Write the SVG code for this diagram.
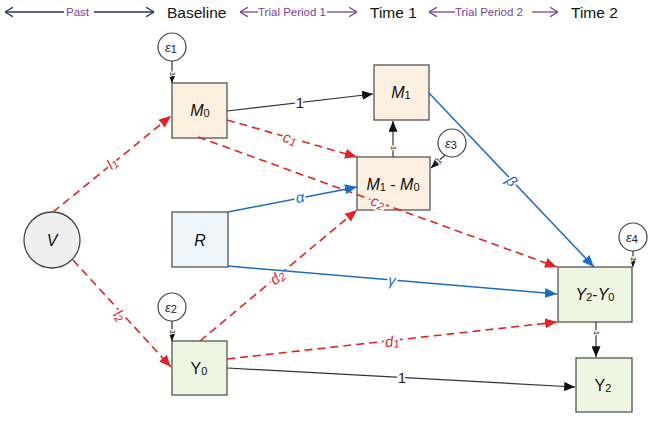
<svg xmlns="http://www.w3.org/2000/svg" width="651" height="421" viewBox="0 0 651 421">
<style>
text{font-family:"Liberation Sans",Arial,sans-serif}
.hd{font-size:15.5px;fill:#111}
.tp{font-size:11.5px;fill:#7a3fa0}
.box{stroke:#555;stroke-width:1.3}
.m{fill:#fdf0e0}.y{fill:#eef5e0}.r{fill:#eef6fc}
.circ{fill:#fff;stroke:#444;stroke-width:1.2}
.nl{font-size:16px;fill:#111;text-anchor:middle;dominant-baseline:central}
.it{font-style:italic}
.sub{font-size:11px}
.eps{font-size:13px;fill:#222;text-anchor:middle;dominant-baseline:central;font-style:italic}
.red{stroke:#e32322;stroke-width:1.6;stroke-dasharray:8 5;fill:none}
.blue{stroke:#1d6cc4;stroke-width:1.5;fill:none}
.blk{stroke:#333;stroke-width:1.2;fill:none}
.lbl{font-size:15px;text-anchor:middle;dominant-baseline:central;stroke:#fff;stroke-width:4;paint-order:stroke}
.lr{fill:#e32322;font-style:italic}
.lb{fill:#1d6cc4;font-style:italic}
.lk{fill:#222}
.tiny{font-size:8px;fill:#222;text-anchor:middle;dominant-baseline:central;stroke:#fff;stroke-width:2;paint-order:stroke}
</style>
<defs>
<marker id="ar" viewBox="0 0 12 10" refX="12" refY="5" markerWidth="12" markerHeight="10" markerUnits="userSpaceOnUse" orient="auto"><path d="M0,0 L12,5 L0,10 z" fill="#e32322"/></marker>
<marker id="ab" viewBox="0 0 12 10" refX="12" refY="5" markerWidth="12" markerHeight="10" markerUnits="userSpaceOnUse" orient="auto"><path d="M0,0 L12,5 L0,10 z" fill="#1d6cc4"/></marker>
<marker id="ak" viewBox="0 0 12 10" refX="12" refY="5" markerWidth="11" markerHeight="9" markerUnits="userSpaceOnUse" orient="auto"><path d="M0,0 L12,5 L0,10 z" fill="#111"/></marker>
<marker id="as" viewBox="0 0 12 10" refX="12" refY="5" markerWidth="7" markerHeight="6" markerUnits="userSpaceOnUse" orient="auto"><path d="M0,0 L12,5 L0,10 z" fill="#111"/></marker>
<marker id="hn" viewBox="0 0 10 12" refX="10" refY="6" markerWidth="8" markerHeight="10" markerUnits="userSpaceOnUse" orient="auto"><path d="M0,0 L10,6 L0,12" fill="none" stroke="#2a2f6e" stroke-width="1.5"/></marker>
<marker id="hp" viewBox="0 0 10 12" refX="10" refY="6" markerWidth="8" markerHeight="10" markerUnits="userSpaceOnUse" orient="auto"><path d="M0,0 L10,6 L0,12" fill="none" stroke="#7a3fa0" stroke-width="1.5"/></marker>
</defs>

<g id="header">
<line x1="64" y1="12" x2="5" y2="12" stroke="#2a2f6e" stroke-width="1.3" marker-end="url(#hn)"/>
<text class="tp" x="66" y="16">Past</text>
<line x1="94" y1="12" x2="154" y2="12" stroke="#2a2f6e" stroke-width="1.3" marker-end="url(#hn)"/>
<text class="hd" x="167" y="18">Baseline</text>
<line x1="258" y1="12" x2="240" y2="12" stroke="#7a3fa0" stroke-width="1.3" marker-end="url(#hp)"/>
<text class="tp" x="258" y="16">Trial Period 1</text>
<line x1="327" y1="12" x2="357" y2="12" stroke="#7a3fa0" stroke-width="1.3" marker-end="url(#hp)"/>
<text class="hd" x="370" y="18">Time 1</text>
<line x1="455" y1="12" x2="429" y2="12" stroke="#7a3fa0" stroke-width="1.3" marker-end="url(#hp)"/>
<text class="tp" x="455" y="16">Trial Period 2</text>
<line x1="532" y1="12" x2="558" y2="12" stroke="#7a3fa0" stroke-width="1.3" marker-end="url(#hp)"/>
<text class="hd" x="571" y="18">Time 2</text>
</g>

<g id="e1"><circle class="circ" cx="172" cy="47" r="14"/><text class="eps" x="171" y="47">ε<tspan class="sub" dy="2" font-style="normal">1</tspan></text></g>
<g id="e2"><circle class="circ" cx="172" cy="307" r="14"/><text class="eps" x="171" y="307">ε<tspan class="sub" dy="2" font-style="normal">2</tspan></text></g>
<g id="e3"><circle class="circ" cx="452" cy="143" r="14"/><text class="eps" x="451" y="143">ε<tspan class="sub" dy="2" font-style="normal">3</tspan></text></g>
<g id="e4"><circle class="circ" cx="633" cy="237" r="14"/><text class="eps" x="632" y="237">ε<tspan class="sub" dy="2" font-style="normal">4</tspan></text></g>

<g id="V"><circle cx="52" cy="240" r="28" fill="#efefef" stroke="#444" stroke-width="1.3"/><text class="nl it" x="52" y="240">V</text></g>
<g id="M0"><rect class="box m" x="172" y="83" width="55" height="55"/><text class="nl" x="200" y="110"><tspan class="it">M</tspan><tspan class="sub" dy="3">0</tspan></text></g>
<g id="M1"><rect class="box m" x="374" y="65" width="55" height="55"/><text class="nl" x="401" y="92"><tspan class="it">M</tspan><tspan class="sub" dy="3">1</tspan></text></g>
<g id="M1M0"><rect class="box m" x="357" y="157" width="73" height="53"/><text class="nl" x="393" y="184"><tspan class="it">M</tspan><tspan class="sub" dy="3">1</tspan><tspan dy="-3"> - </tspan><tspan class="it">M</tspan><tspan class="sub" dy="3">0</tspan></text></g>
<g id="R"><rect class="box r" x="172" y="212" width="56" height="55"/><text class="nl it" x="200" y="240">R</text></g>
<g id="Y0"><rect class="box y" x="172" y="341" width="55" height="54"/><text class="nl" x="199" y="368">Y<tspan class="sub" dy="3">0</tspan></text></g>
<g id="Y2Y0"><rect class="box y" x="558" y="267" width="74" height="55"/><text class="nl" x="595" y="294"><tspan class="it">Y</tspan><tspan class="sub" dy="3">2</tspan><tspan dy="-3">-</tspan><tspan class="it">Y</tspan><tspan class="sub" dy="3">0</tspan></text></g>
<g id="Y2"><rect class="box y" x="576" y="358" width="56" height="54"/><text class="nl" x="603" y="385">Y<tspan class="sub" dy="3">2</tspan></text></g>

<g id="connectors">
<line class="blk" x1="172" y1="61" x2="172" y2="83" marker-end="url(#as)"/>
<text class="tiny" x="172" y="74" transform="rotate(90 172 74)">1</text>
<line class="blk" x1="172" y1="321" x2="172" y2="341" marker-end="url(#as)"/>
<text class="tiny" x="172" y="332" transform="rotate(90 172 332)">1</text>
<line class="blk" x1="445" y1="155" x2="431" y2="168" marker-end="url(#ak)"/>
<text class="tiny" x="439" y="161" transform="rotate(-43 439 161)">1</text>
<line class="blk" x1="633" y1="251" x2="633" y2="267" marker-end="url(#as)"/>
<text class="tiny" x="633" y="259" transform="rotate(90 633 259)">1</text>
<line class="blk" x1="393" y1="157" x2="393" y2="121" marker-end="url(#ak)"/>
<text class="tiny" x="393" y="148" transform="rotate(90 393 148)">1</text>
<line class="blk" x1="596" y1="322" x2="596" y2="357" marker-end="url(#ak)"/>
<text class="tiny" x="596" y="333" transform="rotate(90 596 333)">1</text>
<line class="blk" x1="227" y1="111" x2="373" y2="94" marker-end="url(#ak)"/>
<text class="lbl lk" x="300" y="102" font-size="12">1</text>
<line class="blk" x1="227" y1="368" x2="575" y2="387" marker-end="url(#ak)"/>
<text class="lbl lk" x="402" y="377" font-size="12">1</text>
<line class="red" x1="53" y1="212" x2="171" y2="116" marker-end="url(#ar)"/>
<text class="lbl lr" x="112" y="163" transform="rotate(-39 112 163)">l<tspan class="sub" dy="3">1</tspan></text>
<line class="red" x1="73" y1="260" x2="171" y2="367" marker-end="url(#ar)"/>
<text class="lbl lr" x="120" y="315" transform="rotate(48 120 315)">l<tspan class="sub" dy="3">2</tspan></text>
<line class="red" x1="227" y1="120" x2="357" y2="157" marker-end="url(#ar)"/>
<text class="lbl lr" x="290" y="138" transform="rotate(16 290 138)">c<tspan class="sub" dy="3">1</tspan></text>
<line class="red" x1="198" y1="137" x2="557" y2="267" marker-end="url(#ar)"/>
<text class="lbl lr" x="378" y="202" transform="rotate(20 378 202)">c<tspan class="sub" dy="3">2</tspan></text>
<line class="red" x1="200" y1="341" x2="357" y2="210" marker-end="url(#ar)"/>
<text class="lbl lr" x="277" y="277" transform="rotate(-40 277 277)">d<tspan class="sub" dy="3">2</tspan></text>
<line class="red" x1="227" y1="359" x2="557" y2="322" marker-end="url(#ar)"/>
<text class="lbl lr" x="392" y="341" transform="rotate(-6 392 341)">d<tspan class="sub" dy="3">1</tspan></text>
<line class="blue" x1="228" y1="212" x2="357" y2="187" marker-end="url(#ab)"/>
<text class="lbl lb" x="300" y="197" transform="rotate(-11 300 197)">α</text>
<line class="blue" x1="228" y1="266" x2="557" y2="294" marker-end="url(#ab)"/>
<text class="lbl lb" x="392" y="280" transform="rotate(5 392 280)">γ</text>
<line class="blue" x1="429" y1="93" x2="594" y2="267" marker-end="url(#ab)"/>
<text class="lbl lb" x="512" y="181" transform="rotate(47 512 181)">β</text>
</g>
</svg>
